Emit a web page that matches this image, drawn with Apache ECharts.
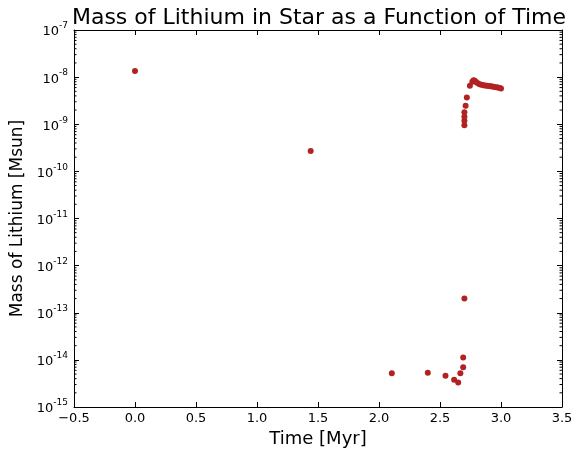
<!DOCTYPE html>
<html>
<head>
<meta charset="utf-8">
<script src="https://cdn.jsdelivr.net/npm/echarts@6/dist/echarts.min.js"></script>
<style>html,body{margin:0;padding:0;background:#fff;}#c{width:574px;height:449px;}</style>
</head>
<body>
<div id="c"></div>
<script>
const titleText = "Mass of Lithium in Star as a Function of Time";
const xLabel = "Time [Myr]";
const yLabel = "Mass of Lithium [Msun]";
const timeMyr = [0.0, 1.44, 2.105, 2.40, 2.545, 2.616, 2.649, 2.667, 2.69, 2.69, 2.70,
  2.70, 2.70, 2.70, 2.70, 2.71, 2.72, 2.745, 2.765, 2.775, 2.785, 2.795, 2.81, 2.825, 2.84,
  2.855, 2.87, 2.885, 2.90, 2.915, 2.93, 2.945, 2.96, 2.975, 2.99, 3.0];
const lithiumMass = [1.35e-8, 2.7e-10, 5.2e-15, 5.3e-15, 4.6e-15, 3.8e-15, 3.3e-15, 5.2e-15, 7.0e-15, 1.12e-14, 2.0e-13,
  9.5e-10, 1.19e-9, 1.44e-9, 1.79e-9, 2.47e-9, 3.7e-9, 6.6e-9, 8.0e-9, 8.6e-9, 8.4e-9, 7.9e-9, 7.4e-9, 7.1e-9, 6.9e-9,
  6.75e-9, 6.65e-9, 6.55e-9, 6.45e-9, 6.4e-9, 6.3e-9, 6.2e-9, 6.1e-9, 6.0e-9, 5.85e-9, 5.75e-9];
const xTicks = [-0.5, 0.0, 0.5, 1.0, 1.5, 2.0, 2.5, 3.0, 3.5];
const yExponents = [-15, -14, -13, -12, -11, -10, -9, -8, -7];

const minorVals = [];
for (let e = yExponents[0]; e < yExponents[yExponents.length - 1]; e++) {
  for (let k = 2; k <= 9; k++) minorVals.push(k * Math.pow(10, e));
}

const font = "DejaVu Sans";
const chart = echarts.init(document.getElementById('c'), null, {renderer: 'canvas'});
const xCommon = {
  type: 'value', min: xTicks[0], max: xTicks[xTicks.length - 1], interval: 0.5,
  axisLine: {onZero: false, lineStyle: {color: '#000', width: 1}},
  axisTick: {inside: true, length: 5, lineStyle: {color: '#000'}},
  splitLine: {show: false}
};
const yCommon = {
  type: 'log', logBase: 10, min: Math.pow(10, yExponents[0]), max: Math.pow(10, yExponents[yExponents.length - 1]),
  axisLine: {onZero: false, lineStyle: {color: '#000', width: 1}},
  axisTick: {inside: true, length: 5, lineStyle: {color: '#000'}},
  splitLine: {show: false}, minorTick: {show: false}
};
chart.setOption({
  animation: false,
  backgroundColor: '#fff',
  title: {
    text: titleText, left: 314, top: 2, textAlign: 'center',
    textStyle: {fontFamily: font, fontSize: 22, fontWeight: 'normal', color: '#000'}
  },
  grid: {left: 74, right: 12, top: 30, bottom: 42, containLabel: false, outerBoundsMode: 'none'},
  xAxis: [
    Object.assign({}, xCommon, {
      position: 'bottom', name: xLabel, nameLocation: 'middle', nameGap: 23,
      nameTextStyle: {fontFamily: font, fontSize: 18, color: '#000'},
      axisLabel: {fontFamily: font, fontSize: 13, color: '#000', margin: 5,
        formatter: v => (v < 0 ? '\u2212' : '') + Math.abs(v).toFixed(1)}
    }),
    Object.assign({}, xCommon, {position: 'top', axisLabel: {show: false}})
  ],
  yAxis: [
    Object.assign({}, yCommon, {
      position: 'left', name: yLabel, nameLocation: 'middle', nameGap: 37,
      nameTextStyle: {fontFamily: font, fontSize: 17, color: '#000'},
      axisLabel: {
        margin: 6,
        formatter: v => '{b|10}{s|' + Math.round(Math.log10(v)) + '}',
        rich: {
          b: {fontFamily: font, fontSize: 13, color: '#000', verticalAlign: 'bottom'},
          s: {fontFamily: font, fontSize: 9, color: '#000', verticalAlign: 'top', padding: [0, 0, 8, 0]}
        }
      }
    }),
    Object.assign({}, yCommon, {position: 'right', axisLabel: {show: false}})
  ],
  series: [
    {
      type: 'scatter', xAxisIndex: 0, yAxisIndex: 0,
      data: timeMyr.map((t, i) => [t, lithiumMass[i]]),
      symbolSize: 6,
      itemStyle: {color: '#B22222', opacity: 1},
      z: 5
    },
    {
      type: 'custom', xAxisIndex: 0, yAxisIndex: 0, silent: true,
      data: minorVals.map(v => [xTicks[0], v]),
      renderItem: function (params, api) {
        const y = api.coord([xTicks[0], api.value(1)])[1];
        const x0 = api.coord([xTicks[0], api.value(1)])[0];
        const x1 = api.coord([xTicks[xTicks.length - 1], api.value(1)])[0];
        return {type: 'group', children: [
          {type: 'line', shape: {x1: x0, y1: y, x2: x0 + 2.5, y2: y}, style: {stroke: '#000', lineWidth: 1}},
          {type: 'line', shape: {x1: x1, y1: y, x2: x1 - 2.5, y2: y}, style: {stroke: '#000', lineWidth: 1}}
        ]};
      }
    }
  ]
});
</script>
</body>
</html>
